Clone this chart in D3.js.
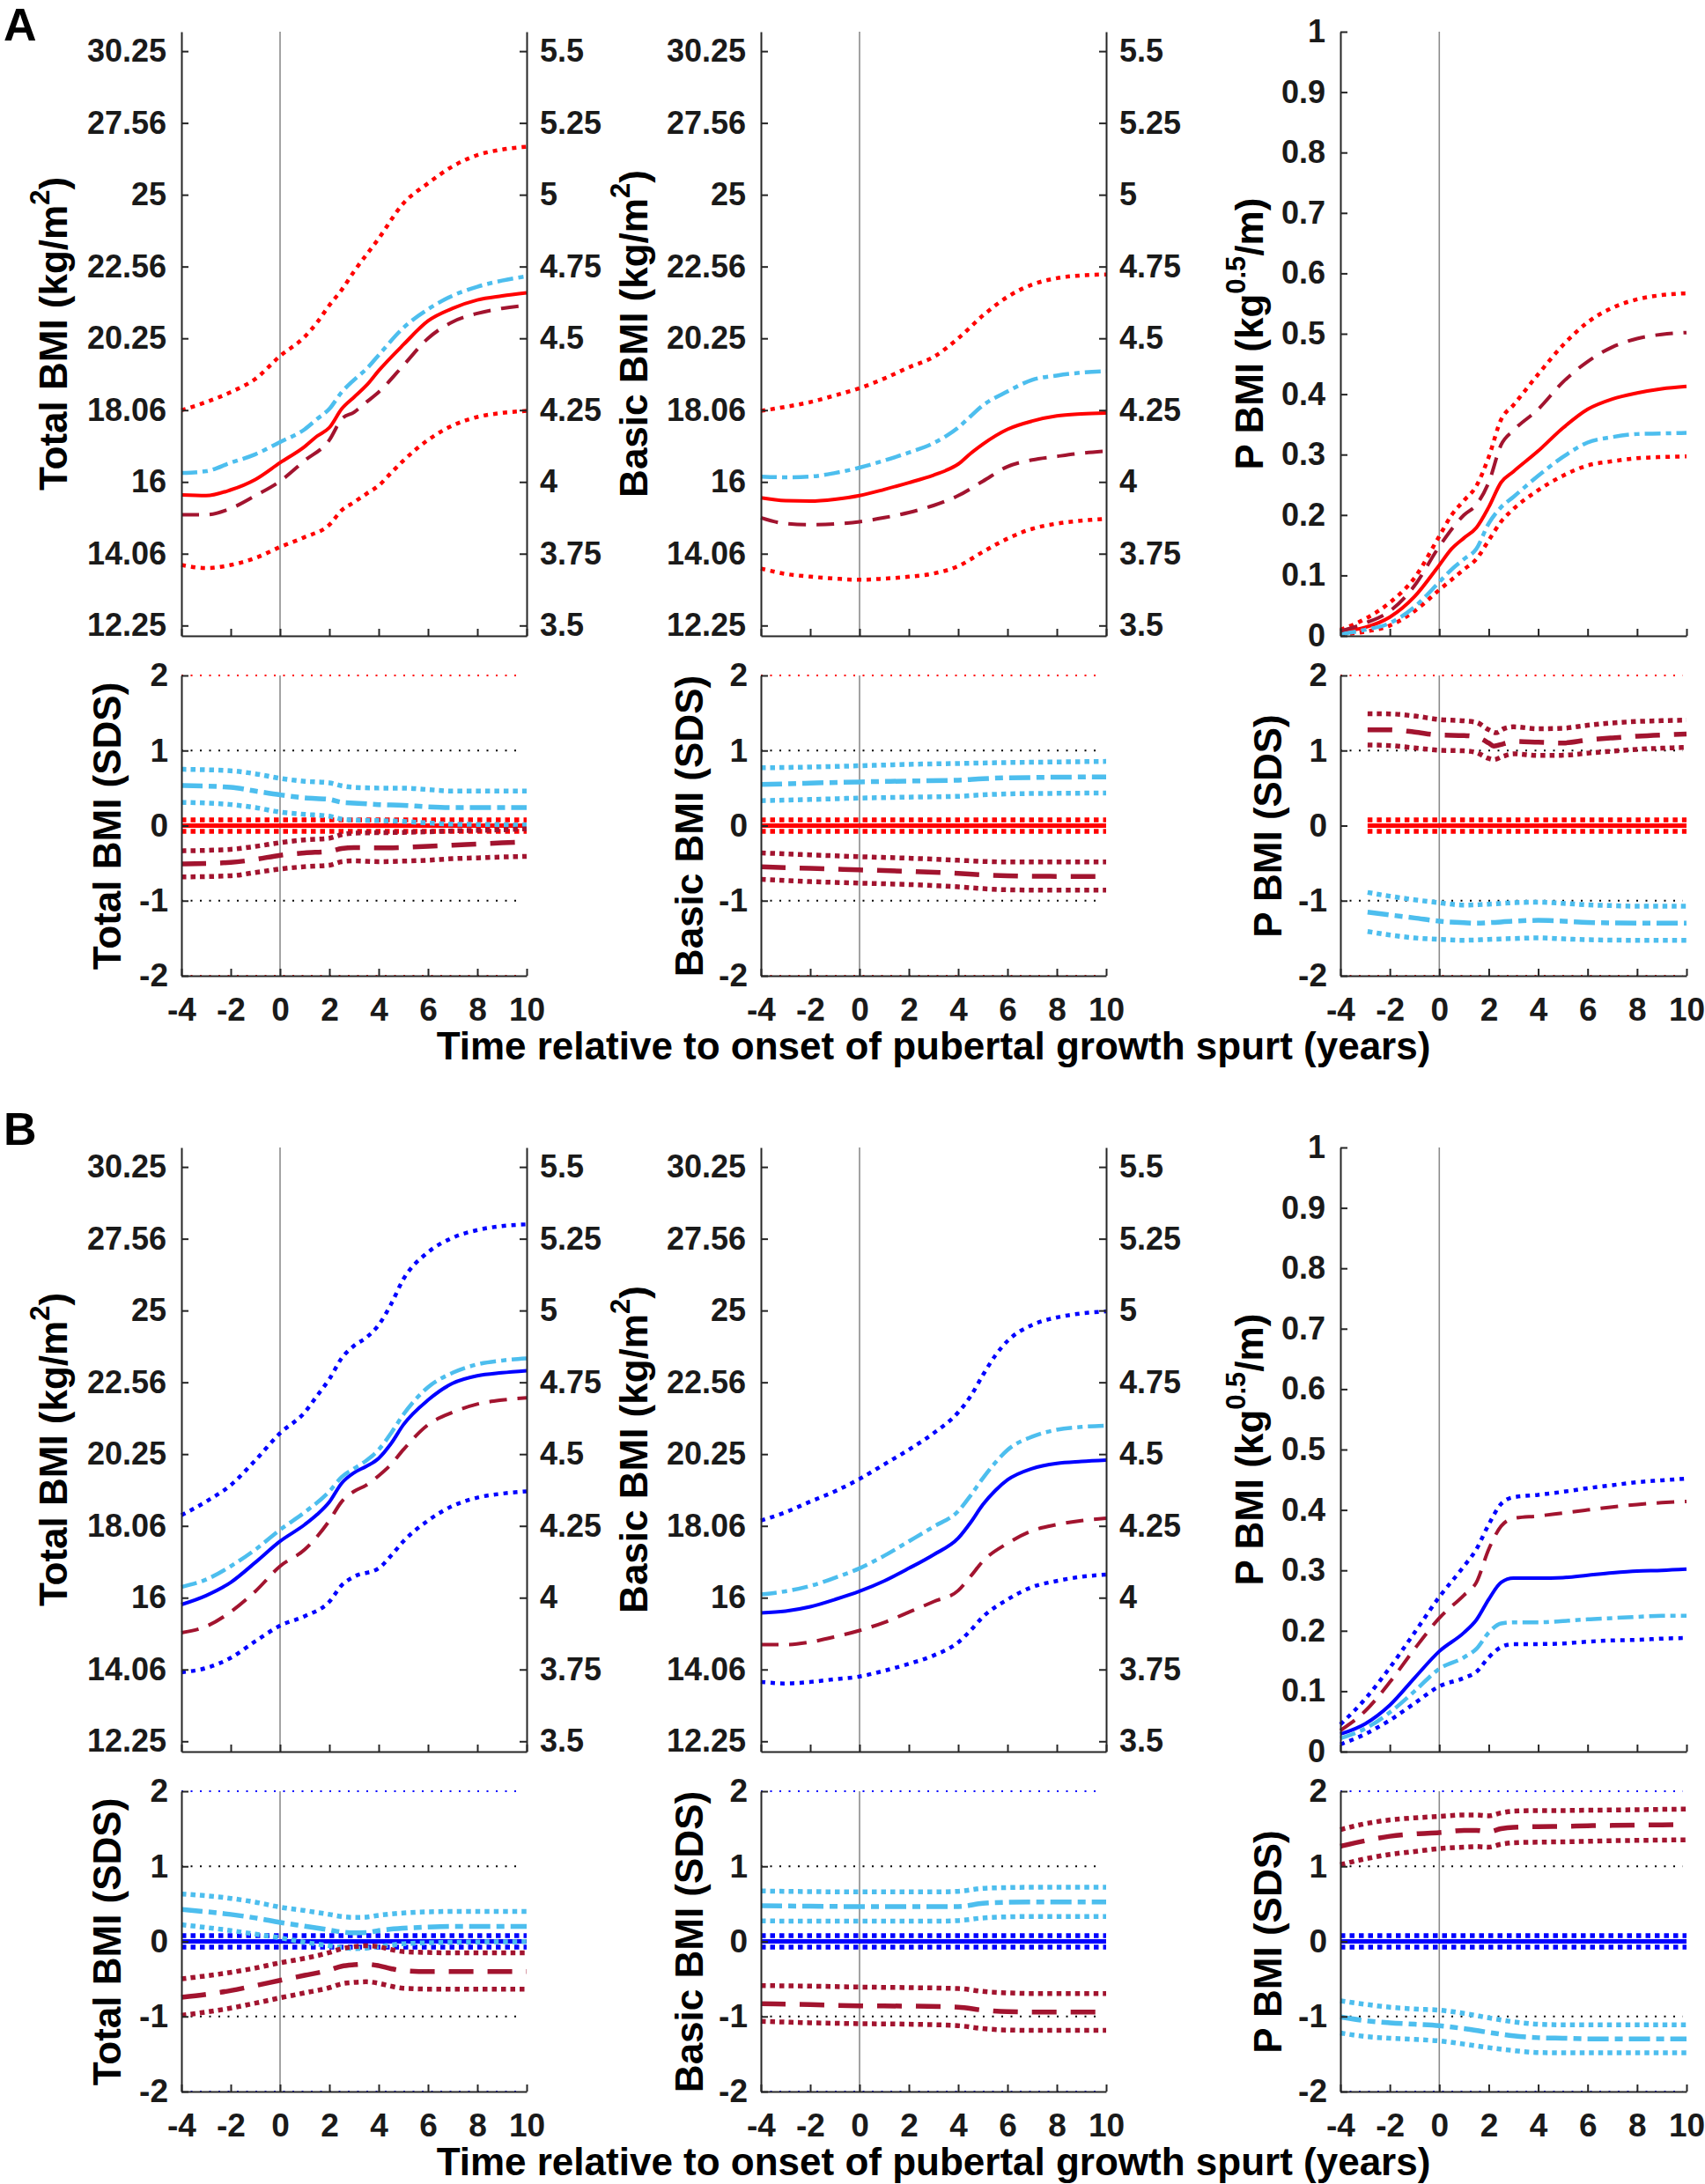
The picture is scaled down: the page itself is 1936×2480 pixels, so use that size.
<!DOCTYPE html>
<html><head><meta charset="utf-8">
<script src="https://cdnjs.cloudflare.com/ajax/libs/d3/7.8.5/d3.min.js"></script>
<style>
body{margin:0;background:#fff;}
svg text{font-family:"Liberation Sans",Arial,Helvetica,sans-serif;font-weight:bold;}
</style></head><body>
<svg id="chart" width="1936" height="2480"></svg>
<script>
// ---------- tick definitions ----------
const X_TICKS = [-4,-2,0,2,4,6,8,10];
const BMI_TICKS = [12.25,14.0625,16,18.0625,20.25,22.5625,25,27.5625,30.25];
const BMI_LABELS = ['12.25','14.06','16','18.06','20.25','22.56','25','27.56','30.25'];
const SQRT_LABELS = ['3.5','3.75','4','4.25','4.5','4.75','5','5.25','5.5'];
const P_TICKS = [0,0.1,0.2,0.3,0.4,0.5,0.6,0.7,0.8,0.9,1];
const P_LABELS = ['0','0.1','0.2','0.3','0.4','0.5','0.6','0.7','0.8','0.9','1'];
const SDS_TICKS = [-2,-1,0,1,2];
const SDS_GUIDES = [2,1,-1,-2];
const REF_BAND = 0.075;
const SDS_REF_START_A = [-4,-4,-2.9];
const SDS_REF_START_B = [-4,-4,-4];

// ---------- Panel A : Total BMI (kg/m2) ----------
const A_tot_upper = [[-4,18.06],[-3,18.3],[-2,18.6],[-1,19.0],[0,19.7],[1,20.3],[1.5,20.75],[2,21.3],[2.5,21.8],[3,22.4],[4,23.5],[5,24.7],[6,25.4],[7,26.0],[8,26.4],[9,26.6],[10,26.7]];
const A_tot_mean  = [[-4,15.64],[-3,15.62],[-2,15.78],[-1,16.07],[0,16.54],[1,17.0],[1.5,17.3],[2,17.55],[2.5,18.1],[3,18.45],[3.5,18.8],[4,19.25],[5,20.05],[6,20.8],[7,21.2],[8,21.47],[9,21.6],[10,21.7]];
const A_tot_lb    = [[-4,16.25],[-3,16.3],[-2,16.54],[-1,16.78],[0,17.13],[1,17.5],[1.5,17.8],[2,18.1],[2.5,18.6],[3,18.97],[3.5,19.3],[4,19.73],[5,20.58],[6,21.17],[7,21.61],[8,21.9],[9,22.1],[10,22.24]];
const A_tot_dr    = [[-4,15.1],[-3,15.1],[-2,15.27],[-1,15.62],[0,16.02],[1,16.6],[2,17.19],[2.5,17.8],[3,18.0],[3.5,18.3],[4,18.6],[5,19.41],[6,20.25],[7,20.77],[8,21.04],[9,21.2],[10,21.3]];
const A_tot_lower = [[-4,13.77],[-3,13.69],[-2,13.77],[-1,13.95],[0,14.24],[1,14.5],[2,14.83],[2.5,15.22],[3,15.44],[3.5,15.67],[4,15.9],[4.5,16.25],[5,16.6],[6,17.19],[7,17.61],[8,17.86],[9,17.98],[10,18.04]];
// Panel A : Basic BMI
const A_bas_upper = [[-4,18.04],[-3,18.16],[-2,18.3],[-1,18.5],[0,18.72],[1,19.01],[2,19.35],[3,19.67],[4,20.25],[5,20.97],[6,21.57],[7,21.97],[8,22.18],[9,22.27],[10,22.3]];
const A_bas_lb    = [[-4,16.15],[-3,16.13],[-2,16.15],[-1,16.25],[0,16.4],[1,16.6],[2,16.83],[3,17.1],[3.5,17.3],[4,17.55],[4.5,17.88],[5,18.2],[6,18.62],[7,18.97],[8,19.1],[9,19.19],[10,19.23]];
const A_bas_mean  = [[-4,15.56],[-3,15.48],[-2,15.47],[-1,15.52],[0,15.62],[1,15.79],[2,15.98],[3,16.19],[3.5,16.32],[4,16.5],[4.5,16.8],[5,17.07],[6,17.5],[7,17.74],[8,17.89],[9,17.95],[10,17.98]];
const A_bas_dr    = [[-4,15.02],[-3,14.86],[-2,14.83],[-1,14.85],[0,14.91],[1,15.02],[2,15.16],[3,15.35],[4,15.62],[5,16.02],[6,16.43],[7,16.62],[8,16.72],[9,16.81],[10,16.87]];
const A_bas_lower = [[-4,13.68],[-3,13.54],[-2,13.47],[-1,13.42],[0,13.39],[1,13.42],[2,13.47],[3,13.55],[4,13.74],[5,14.11],[6,14.46],[7,14.72],[8,14.86],[9,14.94],[10,14.99]];
// Panel A : P BMI
const A_p_upper = [[-4,0.010],[-3,0.028],[-2,0.055],[-1,0.096],[0,0.165],[0.5,0.2],[1,0.224],[1.5,0.248],[2,0.296],[2.5,0.358],[3,0.382],[4,0.433],[5,0.481],[6,0.519],[7,0.543],[8,0.557],[9,0.564],[10,0.567]];
const A_p_dr    = [[-4,0.008],[-3,0.021],[-2,0.041],[-1,0.083],[0,0.148],[1,0.2],[1.5,0.217],[2,0.254],[2.5,0.316],[3,0.34],[4,0.375],[5,0.42],[6,0.454],[7,0.478],[8,0.492],[9,0.499],[10,0.502]];
const A_p_mean  = [[-4,0.007],[-3,0.014],[-2,0.031],[-1,0.065],[0,0.117],[0.5,0.144],[1,0.162],[1.5,0.179],[2,0.213],[2.5,0.254],[3,0.272],[4,0.306],[5,0.344],[6,0.375],[7,0.392],[8,0.402],[9,0.409],[10,0.413]];
const A_p_lb    = [[-4,0.003],[-3,0.01],[-2,0.021],[-1,0.048],[0,0.089],[0.5,0.11],[1,0.127],[1.5,0.144],[2,0.186],[2.5,0.213],[3,0.23],[4,0.265],[5,0.296],[6,0.32],[7,0.329],[8,0.334],[9,0.335],[10,0.336]];
const A_p_lower = [[-4,0.002],[-3,0.007],[-2,0.017],[-1,0.041],[0,0.076],[0.5,0.093],[1,0.11],[1.5,0.127],[2,0.158],[2.5,0.189],[3,0.21],[4,0.241],[5,0.265],[6,0.282],[7,0.289],[8,0.294],[9,0.296],[10,0.297]];
// Panel A : SDS
const A_stot_lbU = [[-4,0.75],[-2,0.73],[-1,0.69],[0,0.63],[1,0.59],[2,0.57],[2.5,0.53],[3,0.51],[4,0.5],[5,0.5],[6,0.48],[7,0.46],[8,0.46],[10,0.46]];
const A_stot_lbM = [[-4,0.535],[-2,0.51],[-1,0.46],[0,0.41],[1,0.37],[2,0.35],[2.5,0.31],[3,0.3],[4,0.28],[5,0.27],[6,0.25],[7,0.24],[10,0.24]];
const A_stot_lbL = [[-4,0.31],[-2,0.28],[-1,0.24],[0,0.18],[1,0.15],[2,0.125],[2.5,0.086],[3,0.074],[4,0.066],[5,0.055],[6,0.035],[7,0.02],[8,0.016],[10,0.008]];
const A_stot_drU = [[-4,-0.336],[-2,-0.316],[-1,-0.277],[0,-0.227],[1,-0.19],[2,-0.168],[2.5,-0.12],[3,-0.1],[4,-0.094],[5,-0.09],[6,-0.082],[7,-0.07],[8,-0.063],[9,-0.055],[10,-0.043]];
const A_stot_drM = [[-4,-0.51],[-2,-0.49],[-1,-0.45],[0,-0.395],[1,-0.363],[2,-0.344],[2.5,-0.305],[3,-0.293],[4,-0.297],[5,-0.29],[6,-0.277],[7,-0.26],[8,-0.246],[9,-0.23],[10,-0.219]];
const A_stot_drL = [[-4,-0.684],[-2,-0.668],[-1,-0.625],[0,-0.578],[1,-0.547],[2,-0.527],[2.5,-0.48],[3,-0.469],[4,-0.48],[5,-0.473],[6,-0.461],[7,-0.441],[8,-0.43],[9,-0.418],[10,-0.41]];
const A_sbas_lbU = [[-4,0.77],[-2,0.78],[0,0.797],[2,0.816],[4,0.828],[6,0.84],[8,0.848],[10,0.855]];
const A_sbas_lbM = [[-4,0.547],[-2,0.566],[0,0.582],[2,0.594],[4,0.605],[5,0.625],[6,0.637],[7,0.64],[8,0.645],[10,0.648]];
const A_sbas_lbL = [[-4,0.332],[-2,0.348],[0,0.367],[2,0.379],[4,0.39],[5,0.41],[6,0.422],[8,0.43],[10,0.434]];
const A_sbas_drU = [[-4,-0.363],[-2,-0.39],[0,-0.414],[2,-0.434],[4,-0.461],[5,-0.477],[6,-0.484],[10,-0.484]];
const A_sbas_drM = [[-4,-0.547],[-2,-0.57],[0,-0.59],[2,-0.609],[4,-0.637],[5,-0.656],[6,-0.668],[8,-0.676],[10,-0.676]];
const A_sbas_drL = [[-4,-0.715],[-2,-0.746],[0,-0.766],[2,-0.785],[4,-0.816],[5,-0.84],[6,-0.855],[8,-0.86],[10,-0.86]];
const A_sp_drU = [[-2.9,1.49],[-2,1.488],[-1,1.46],[0,1.414],[1,1.395],[1.5,1.375],[2,1.277],[2.3,1.238],[2.6,1.289],[3,1.316],[4,1.289],[5,1.297],[6,1.336],[7,1.367],[8,1.387],[9,1.398],[10,1.406]];
const A_sp_drM = [[-2.9,1.277],[-2,1.277],[-1,1.246],[0,1.207],[1,1.2],[1.5,1.18],[2,1.1],[2.2,1.06],[2.6,1.09],[3,1.12],[4,1.11],[5,1.1],[6,1.14],[7,1.168],[8,1.191],[9,1.207],[10,1.219]];
const A_sp_drL = [[-2.9,1.074],[-2,1.066],[-1,1.035],[0,1.004],[1,0.996],[1.5,0.973],[2,0.895],[2.2,0.879],[2.6,0.926],[3,0.957],[4,0.934],[5,0.937],[6,0.965],[7,0.992],[8,1.016],[9,1.031],[10,1.043]];
const A_sp_lbU = [[-2.9,-0.89],[-2,-0.94],[-1,-0.988],[0,-1.027],[1,-1.059],[2,-1.047],[3,-1.027],[4,-1.02],[5,-1.035],[6,-1.055],[7,-1.066],[8,-1.074],[10,-1.074]];
const A_sp_lbM = [[-2.9,-1.152],[-2,-1.19],[-1,-1.23],[0,-1.273],[1,-1.293],[1.5,-1.3],[2,-1.293],[3,-1.273],[4,-1.262],[5,-1.273],[6,-1.289],[7,-1.297],[8,-1.3],[10,-1.3]];
const A_sp_lbL = [[-2.9,-1.41],[-2,-1.457],[-1,-1.496],[0,-1.516],[1,-1.527],[2,-1.516],[3,-1.504],[4,-1.496],[5,-1.508],[6,-1.52],[8,-1.527],[10,-1.527]];

// ---------- Panel B ----------
const B_tot_upper = [[-4,18.38],[-3,18.79],[-2,19.29],[-1,20.06],[0,20.91],[1,21.58],[1.5,22.12],[2,22.67],[2.5,23.37],[3,23.79],[3.5,24.07],[4,24.5],[4.5,25.22],[5,26.1],[6,27.07],[7,27.6],[8,27.88],[9,28.03],[10,28.09]];
const B_tot_lb    = [[-4,16.3],[-3,16.51],[-2,16.89],[-1,17.37],[0,17.95],[1,18.47],[2,19.1],[2.5,19.54],[3,19.8],[3.5,20.05],[4,20.39],[4.5,20.91],[5,21.51],[6,22.4],[7,22.88],[8,23.16],[9,23.29],[10,23.36]];
const B_tot_mean  = [[-4,15.81],[-3,16.06],[-2,16.43],[-1,17.0],[0,17.61],[1,18.1],[1.5,18.4],[2,18.78],[2.5,19.35],[3,19.67],[3.5,19.87],[4,20.12],[4.5,20.58],[5,21.18],[6,21.98],[7,22.53],[8,22.78],[9,22.88],[10,22.95]];
const B_tot_dr    = [[-4,15.04],[-3,15.21],[-2,15.61],[-1,16.18],[0,16.89],[1,17.37],[2,18.22],[2.5,18.79],[3,19.1],[3.5,19.29],[4,19.58],[4.5,19.93],[5,20.39],[6,21.18],[7,21.58],[8,21.85],[9,21.98],[10,22.05]];
const B_tot_lower = [[-4,13.99],[-3,14.1],[-2,14.37],[-1,14.81],[0,15.23],[1,15.49],[2,15.89],[2.5,16.35],[3,16.59],[4,16.83],[4.5,17.19],[5,17.61],[6,18.22],[7,18.66],[8,18.91],[9,19.03],[10,19.1]];
const B_bas_upper = [[-4,18.22],[-3,18.47],[-2,18.79],[-1,19.1],[0,19.48],[1,19.93],[2,20.39],[3,20.91],[4,21.58],[4.5,22.1],[5,22.8],[5.5,23.45],[6,23.95],[7,24.5],[8,24.76],[9,24.9],[10,24.97]];
const B_bas_lb    = [[-4,16.09],[-3,16.18],[-2,16.33],[-1,16.56],[0,16.83],[1,17.19],[2,17.61],[3,18.04],[4,18.5],[4.5,18.97],[5,19.5],[5.5,19.98],[6,20.38],[7,20.8],[8,21.02],[9,21.11],[10,21.15]];
const B_bas_mean  = [[-4,15.58],[-3,15.63],[-2,15.75],[-1,15.95],[0,16.18],[1,16.47],[2,16.83],[3,17.22],[4,17.7],[4.5,18.16],[5,18.7],[5.5,19.12],[6,19.45],[7,19.8],[8,19.96],[9,20.02],[10,20.06]];
const B_bas_dr    = [[-4,14.72],[-3,14.72],[-2,14.79],[-1,14.93],[0,15.1],[1,15.32],[2,15.6],[3,15.89],[4,16.2],[4.5,16.6],[5,17.03],[6,17.55],[7,17.92],[8,18.1],[9,18.22],[10,18.29]];
const B_bas_lower = [[-4,13.74],[-3,13.7],[-2,13.74],[-1,13.81],[0,13.88],[1,14.03],[2,14.21],[3,14.43],[4,14.78],[4.5,15.1],[5,15.47],[6,15.95],[7,16.3],[8,16.47],[9,16.59],[10,16.65]];
const B_p_upper = [[-4,0.045],[-3,0.087],[-2,0.139],[-1,0.197],[0,0.256],[1,0.307],[1.5,0.335],[2,0.376],[2.5,0.41],[3,0.421],[4,0.425],[5,0.43],[6,0.436],[7,0.441],[8,0.446],[9,0.449],[10,0.452]];
const B_p_dr    = [[-4,0.035],[-3,0.067],[-2,0.115],[-1,0.17],[0,0.221],[1,0.259],[1.5,0.28],[2,0.335],[2.5,0.373],[3,0.386],[4,0.39],[5,0.395],[6,0.4],[7,0.405],[8,0.409],[9,0.412],[10,0.414]];
const B_p_mean  = [[-4,0.029],[-3,0.046],[-2,0.077],[-1,0.122],[0,0.166],[1,0.197],[1.5,0.218],[2,0.252],[2.5,0.28],[3,0.287],[4,0.287],[5,0.288],[6,0.292],[7,0.296],[8,0.299],[9,0.3],[10,0.302]];
const B_p_lb    = [[-4,0.022],[-3,0.038],[-2,0.065],[-1,0.1],[0,0.137],[1,0.156],[1.5,0.17],[2,0.197],[2.5,0.212],[3,0.214],[4,0.214],[5,0.216],[6,0.219],[7,0.221],[8,0.223],[9,0.225],[10,0.225]];
const B_p_lower = [[-4,0.012],[-3,0.029],[-2,0.052],[-1,0.08],[0,0.108],[1,0.122],[1.5,0.132],[2,0.156],[2.5,0.173],[3,0.178],[4,0.178],[5,0.179],[6,0.182],[7,0.184],[8,0.185],[9,0.187],[10,0.188]];
const B_stot_lbU = [[-4,0.632],[-2,0.573],[-1,0.522],[0,0.456],[1,0.41],[2,0.359],[2.5,0.331],[3,0.32],[3.5,0.324],[4,0.347],[5,0.378],[6,0.394],[7,0.398],[10,0.398]];
const B_stot_lbM = [[-4,0.425],[-2,0.359],[-1,0.312],[0,0.253],[1,0.203],[2,0.152],[2.5,0.125],[3,0.113],[3.5,0.117],[4,0.144],[5,0.175],[6,0.191],[7,0.199],[10,0.199]];
const B_stot_lbL = [[-4,0.222],[-2,0.144],[-1,0.097],[0,0.047],[1,-0.012],[2,-0.058],[2.5,-0.082],[3,-0.097],[3.5,-0.09],[4,-0.07],[5,-0.031],[6,-0.019],[7,-0.012],[8,-0.008],[10,-0.004]];
const B_stot_drU = [[-4,-0.499],[-2,-0.413],[-1,-0.355],[0,-0.285],[1,-0.226],[2,-0.148],[2.5,-0.097],[3,-0.07],[3.5,-0.058],[4,-0.07],[4.5,-0.109],[5,-0.136],[6,-0.148],[7,-0.152],[10,-0.152]];
const B_stot_drM = [[-4,-0.745],[-2,-0.655],[-1,-0.589],[0,-0.519],[1,-0.452],[2,-0.382],[2.5,-0.331],[3,-0.312],[3.5,-0.304],[4,-0.324],[4.5,-0.363],[5,-0.39],[6,-0.402],[10,-0.402]];
const B_stot_drL = [[-4,-0.986],[-2,-0.889],[-1,-0.823],[0,-0.752],[1,-0.686],[2,-0.616],[2.5,-0.565],[3,-0.546],[3.5,-0.538],[4,-0.558],[4.5,-0.597],[5,-0.624],[6,-0.635],[10,-0.635]];
const B_sbas_lbU = [[-4,0.671],[-2,0.663],[0,0.659],[3,0.659],[4,0.667],[5,0.706],[6,0.717],[7,0.721],[10,0.721]];
const B_sbas_lbM = [[-4,0.476],[-2,0.468],[0,0.464],[4,0.464],[5,0.507],[6,0.522],[7,0.526],[10,0.526]];
const B_sbas_lbL = [[-4,0.273],[-2,0.269],[0,0.269],[3,0.269],[4,0.277],[5,0.312],[6,0.327],[7,0.331],[10,0.331]];
const B_sbas_drU = [[-4,-0.589],[-2,-0.596],[0,-0.608],[2,-0.616],[4,-0.628],[5,-0.667],[6,-0.686],[7,-0.694],[10,-0.694]];
const B_sbas_drM = [[-4,-0.83],[-2,-0.842],[0,-0.858],[2,-0.862],[4,-0.877],[5,-0.916],[6,-0.936],[7,-0.94],[10,-0.94]];
const B_sbas_drL = [[-4,-1.064],[-2,-1.084],[0,-1.096],[2,-1.103],[4,-1.123],[5,-1.162],[6,-1.181],[7,-1.185],[10,-1.185]];
const B_sp_drU = [[-4,1.489],[-3,1.567],[-2,1.618],[-1,1.645],[0,1.665],[1,1.684],[1.5,1.684],[2,1.673],[2.5,1.712],[3,1.735],[4,1.743],[5,1.743],[6,1.747],[7,1.75],[8,1.754],[9,1.758],[10,1.762]];
const B_sp_drM = [[-4,1.267],[-3,1.341],[-2,1.4],[-1,1.431],[0,1.45],[1,1.478],[1.5,1.478],[2,1.462],[2.5,1.501],[3,1.52],[4,1.528],[5,1.532],[6,1.54],[7,1.544],[8,1.548],[9,1.552],[10,1.556]];
const B_sp_drL = [[-4,1.021],[-3,1.099],[-2,1.158],[-1,1.197],[0,1.236],[1,1.255],[1.5,1.263],[2,1.255],[2.5,1.294],[3,1.314],[4,1.322],[5,1.326],[6,1.333],[7,1.341],[8,1.345],[9,1.349],[10,1.353]];
const B_sp_lbU = [[-4,-0.791],[-3,-0.838],[-2,-0.877],[-1,-0.901],[0,-0.916],[1,-0.959],[2,-1.018],[3,-1.072],[4,-1.103],[5,-1.111],[10,-1.111]];
const B_sp_lbM = [[-4,-1.006],[-3,-1.056],[-2,-1.084],[-1,-1.103],[0,-1.123],[1,-1.162],[2,-1.212],[3,-1.259],[4,-1.283],[5,-1.29],[6,-1.298],[10,-1.298]];
const B_sp_lbL = [[-4,-1.22],[-3,-1.267],[-2,-1.29],[-1,-1.306],[0,-1.326],[1,-1.368],[2,-1.415],[3,-1.454],[4,-1.481],[5,-1.485],[10,-1.485]];

// ---------- titles ----------
const TOP_TITLES = [
  [{t:'Total BMI (kg/m'},{t:'2',sup:true},{t:')',after:true}],
  [{t:'Basic BMI (kg/m'},{t:'2',sup:true},{t:')',after:true}],
  [{t:'P BMI (kg'},{t:'0.5',sup:true},{t:'/m)',after:true}]
];
const SDS_TITLES = ['Total BMI (SDS)','Basic BMI (SDS)','P BMI (SDS)'];
const X_TITLE = 'Time relative to onset of pubertal growth spurt (years)';

// ---------- rendering ----------
const COL = {red:'#FF0000', blue:'#0000FF', lb:'#4DBEEE', dr:'#A2142F', axis:'#262626', zero:'#8c8c8c', text:'#1a1a1a'};
const STY = {
  band:{w:4.5,dash:'5,6'}, mean:{w:4}, lb:{w:4.5,dash:'18,6,6,6'}, dr:{w:4,dash:'20,12'},
  sBand:{w:5.5,dash:'5.5,5'}, sMean:{w:5}, sLb:{w:5.5,dash:'24,7,9,7'}, sDr:{w:5.5,dash:'28,16'}
};
const COLX = [[206,598],[864,1256],[1522,1915]];
const TITLE_X_TOP = [76,735,1434];
const TITLE_X_SDS = [137,798,1455];
const svg = d3.select('#chart');
const intFmt = d => String(d);   // hyphen-minus like the original

function drawLine(g, data, x, y, color, st){
  g.append('path').datum(data)
    .attr('d', d3.line().x(d=>x(d[0])).y(d=>y(d[1])).curve(d3.curveMonotoneX))
    .attr('fill','none').attr('stroke',color).attr('stroke-width',st.w)
    .attr('stroke-dasharray', st.dash || null).attr('stroke-linecap','butt');
}
function styleAxis(ax, fs){
  ax.attr('font-family',null).attr('font-size',null);
  ax.select('.domain').attr('stroke',COL.axis).attr('stroke-width',2);
  ax.selectAll('.tick line').attr('stroke',COL.axis).attr('stroke-width',2);
  ax.selectAll('.tick text').attr('fill',COL.text).style('font-size',fs+'px');
}
function yTitle(x, cy, parts){
  const t = svg.append('text').attr('transform',`translate(${x},${cy}) rotate(-90)`)
    .attr('text-anchor','middle').attr('fill','#000').style('font-size','44px');
  parts.forEach(p=>{
    const ts = t.append('tspan').text(p.t);
    if (p.sup) ts.attr('dy',-20).style('font-size','31px');
    if (p.after) ts.attr('dy',20);
  });
}

function topPlot(ci, off, kind, s, refColor){
  const x = d3.scaleLinear().domain([-4,10]).range(COLX[ci]);
  const y = kind==='p' ? d3.scaleLinear().domain([0,1]).range([722+off,36+off])
                       : d3.scaleSqrt().domain([12,31]).range([722+off,36+off]);
  const g = svg.append('g');
  g.append('line').attr('x1',x(0)).attr('x2',x(0)).attr('y1',36+off).attr('y2',722+off)
    .attr('stroke',COL.zero).attr('stroke-width',1.6);
  drawLine(g, s.up, x, y, refColor, STY.band);
  drawLine(g, s.low, x, y, refColor, STY.band);
  drawLine(g, s.mean, x, y, refColor, STY.mean);
  drawLine(g, s.lb, x, y, COL.lb, STY.lb);
  drawLine(g, s.dr, x, y, COL.dr, STY.dr);
  const left = kind==='p'
    ? d3.axisLeft(y).tickValues(P_TICKS).tickFormat((d,i)=>P_LABELS[i])
    : d3.axisLeft(y).tickValues(BMI_TICKS).tickFormat((d,i)=>BMI_LABELS[i]);
  left.tickSizeInner(-8).tickSizeOuter(0).tickPadding(17);
  styleAxis(svg.append('g').attr('transform',`translate(${COLX[ci][0]},0)`).call(left), 36);
  const bottom = d3.axisBottom(x).tickValues(X_TICKS).tickSizeInner(-8).tickSizeOuter(0);
  const bx = svg.append('g').attr('transform',`translate(0,${722+off})`).call(bottom);
  bx.selectAll('.tick text').remove();
  styleAxis(bx, 36);
  if (kind!=='p'){
    const right = d3.axisRight(y).tickValues(BMI_TICKS).tickFormat((d,i)=>SQRT_LABELS[i])
      .tickSizeInner(-8).tickSizeOuter(0).tickPadding(15);
    styleAxis(svg.append('g').attr('transform',`translate(${COLX[ci][1]},0)`).call(right), 36);
  }
  yTitle(TITLE_X_TOP[ci], off+379, TOP_TITLES[ci]);
}

function sdsPlot(ci, off, s, refColor, refStart){
  const x = d3.scaleLinear().domain([-4,10]).range(COLX[ci]);
  const y = d3.scaleLinear().domain([-2,2]).range([1108+off,767+off]);
  const g = svg.append('g');
  SDS_GUIDES.forEach(v=>{
    drawLine(g, [[-4,v],[9.85,v]], x, y, Math.abs(v)===2 ? refColor : '#000', {w:2,dash:'2,8.5'});
  });
  g.append('line').attr('x1',x(0)).attr('x2',x(0)).attr('y1',y(2)).attr('y2',y(-2))
    .attr('stroke',COL.zero).attr('stroke-width',1.6);
  drawLine(g, [[refStart,REF_BAND],[10,REF_BAND]], x, y, refColor, STY.sBand);
  drawLine(g, [[refStart,-REF_BAND],[10,-REF_BAND]], x, y, refColor, STY.sBand);
  drawLine(g, [[refStart,0],[10,0]], x, y, refColor, STY.sMean);
  drawLine(g, s.lbU, x, y, COL.lb, STY.sBand);
  drawLine(g, s.lbL, x, y, COL.lb, STY.sBand);
  drawLine(g, s.lbM, x, y, COL.lb, STY.sLb);
  drawLine(g, s.drU, x, y, COL.dr, STY.sBand);
  drawLine(g, s.drL, x, y, COL.dr, STY.sBand);
  drawLine(g, s.drM, x, y, COL.dr, STY.sDr);
  const left = d3.axisLeft(y).tickValues(SDS_TICKS).tickFormat(intFmt)
    .tickSizeInner(-8).tickSizeOuter(0).tickPadding(15);
  styleAxis(svg.append('g').attr('transform',`translate(${COLX[ci][0]},0)`).call(left), 37);
  const bottom = d3.axisBottom(x).tickValues(X_TICKS).tickFormat(intFmt)
    .tickSizeInner(-8).tickSizeOuter(0).tickPadding(25);
  styleAxis(svg.append('g').attr('transform',`translate(0,${1108+off})`).call(bottom), 37);
  yTitle(TITLE_X_SDS[ci], off+938, [{t:SDS_TITLES[ci]}]);
}

const PANELS = [
  {letter:'A', off:0, ref:COL.red, starts:SDS_REF_START_A,
   top:[{up:A_tot_upper,low:A_tot_lower,mean:A_tot_mean,lb:A_tot_lb,dr:A_tot_dr},
        {up:A_bas_upper,low:A_bas_lower,mean:A_bas_mean,lb:A_bas_lb,dr:A_bas_dr},
        {up:A_p_upper,low:A_p_lower,mean:A_p_mean,lb:A_p_lb,dr:A_p_dr}],
   sds:[{lbU:A_stot_lbU,lbM:A_stot_lbM,lbL:A_stot_lbL,drU:A_stot_drU,drM:A_stot_drM,drL:A_stot_drL},
        {lbU:A_sbas_lbU,lbM:A_sbas_lbM,lbL:A_sbas_lbL,drU:A_sbas_drU,drM:A_sbas_drM,drL:A_sbas_drL},
        {lbU:A_sp_lbU,lbM:A_sp_lbM,lbL:A_sp_lbL,drU:A_sp_drU,drM:A_sp_drM,drL:A_sp_drL}]},
  {letter:'B', off:1267, ref:COL.blue, starts:SDS_REF_START_B,
   top:[{up:B_tot_upper,low:B_tot_lower,mean:B_tot_mean,lb:B_tot_lb,dr:B_tot_dr},
        {up:B_bas_upper,low:B_bas_lower,mean:B_bas_mean,lb:B_bas_lb,dr:B_bas_dr},
        {up:B_p_upper,low:B_p_lower,mean:B_p_mean,lb:B_p_lb,dr:B_p_dr}],
   sds:[{lbU:B_stot_lbU,lbM:B_stot_lbM,lbL:B_stot_lbL,drU:B_stot_drU,drM:B_stot_drM,drL:B_stot_drL},
        {lbU:B_sbas_lbU,lbM:B_sbas_lbM,lbL:B_sbas_lbL,drU:B_sbas_drU,drM:B_sbas_drM,drL:B_sbas_drL},
        {lbU:B_sp_lbU,lbM:B_sp_lbM,lbL:B_sp_lbL,drU:B_sp_drU,drM:B_sp_drM,drL:B_sp_drL}]}
];

PANELS.forEach(P=>{
  P.top.forEach((s,ci)=> topPlot(ci, P.off, ci===2?'p':'bmi', s, P.ref));
  P.sds.forEach((s,ci)=> sdsPlot(ci, P.off, s, P.ref, P.starts[ci]));
  svg.append('text').attr('x',1060).attr('y',1203+P.off).attr('text-anchor','middle')
    .attr('fill','#000').style('font-size','44px').text(X_TITLE);
  svg.append('text').attr('x',4).attr('y',(P.letter==='A'?46:1300)).attr('fill','#000')
    .style('font-size','52px').text(P.letter);
});
</script>
</body></html>
